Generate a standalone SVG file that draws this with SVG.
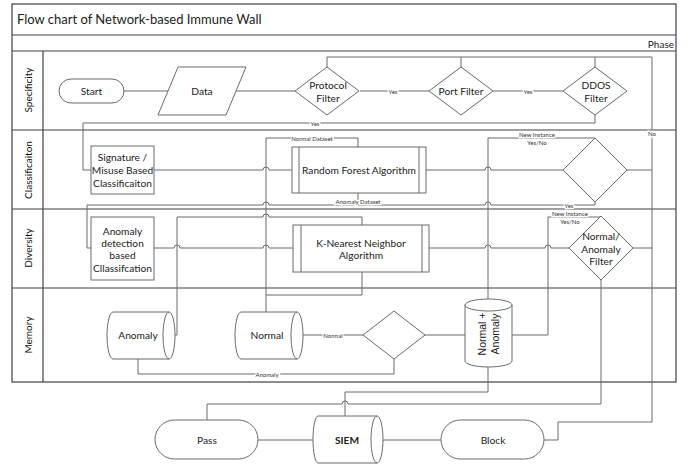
<svg xmlns="http://www.w3.org/2000/svg" width="688" height="468" viewBox="0 0 688 468">
<style>
.frame{fill:none;stroke:#404040;stroke-width:1.2}
.shape{fill:#fff;stroke:#6b6b6b;stroke-width:1}
.ln{fill:none;stroke:#6b6b6b;stroke-width:1}
.t{font-family:Lato,"Liberation Sans",sans-serif;font-size:10.2px;fill:#222;text-anchor:middle;dominant-baseline:central}
.lane{font-family:Lato,"Liberation Sans",sans-serif;font-size:10px;fill:#111;text-anchor:middle;dominant-baseline:central}
.lbl{font-family:Lato,"Liberation Sans",sans-serif;font-size:6px;fill:#333;text-anchor:middle;dominant-baseline:central;stroke:#fff;stroke-width:2.5;paint-order:stroke}
</style>
<rect width="688" height="468" fill="#fff"/>
<g id="frame">
<rect class="frame" x="12" y="4" width="664" height="378"/>
<line class="frame" x1="12" y1="35" x2="676" y2="35"/>
<line class="frame" x1="12" y1="51" x2="676" y2="51"/>
<line class="frame" x1="12" y1="130" x2="676" y2="130"/>
<line class="frame" x1="12" y1="209" x2="676" y2="209"/>
<line class="frame" x1="12" y1="288" x2="676" y2="288"/>
<line class="frame" x1="43" y1="51" x2="43" y2="382"/>
<text x="17" y="19" font-family="Lato,'Liberation Sans',sans-serif" font-size="13" fill="#222" dominant-baseline="central">Flow chart of Network-based Immune Wall</text>
<text x="674" y="44" font-family="Lato,'Liberation Sans',sans-serif" font-size="10" fill="#222" text-anchor="end" dominant-baseline="central">Phase</text>
<text class="lane" transform="translate(28,90) rotate(-90)">Specificity</text>
<text class="lane" transform="translate(28,170) rotate(-90)">Classificaiton</text>
<text class="lane" transform="translate(28,248) rotate(-90)">Diversity</text>
<text class="lane" transform="translate(28,335) rotate(-90)">Memory</text>
</g>
<g id="connectors">
<path class="ln" d="M124,91 H168"/>
<path class="ln" d="M236,91 H296"/>
<path class="ln" d="M360,91 H429"/>
<path class="ln" d="M493,91 H563"/>
<path class="ln" d="M327,67 V57 H652 V422 H558 V440 H544"/>
<path class="ln" d="M461,67 V57"/>
<path class="ln" d="M595,67 V57"/>
<path class="ln" d="M595,115 V123 H83 V170 H91"/>
<path class="ln" d="M154,170 H263 A3,3 0 0 1 269,170 H292"/>
<path class="ln" d="M426,170 H485 A3,3 0 0 1 491,170 H563"/>
<path class="ln" d="M627,170 H652"/>
<path class="ln" d="M358,147 V138 H266 V312"/>
<path class="ln" d="M358,193 V205"/>
<path class="ln" d="M595,202 V205 H491 A3,3 0 0 0 485,205 H269 A3,3 0 0 0 263,205 H87 V248 H91"/>
<path class="ln" d="M362,225 V217 H269 A3,3 0 0 0 263,217 H177 V335 H175"/>
<path class="ln" d="M154,248 H174 A3,3 0 0 1 180,248 H263 A3,3 0 0 1 269,248 H293"/>
<path class="ln" d="M429,248 H485 A3,3 0 0 1 491,248 H545 A3,3 0 0 1 551,248 H569"/>
<path class="ln" d="M633,248 H652"/>
<path class="ln" d="M488,299 V138 H595"/>
<path class="ln" d="M512,335 H548 V217 H601"/>
<path class="ln" d="M362,272 V295 H266"/>
<path class="ln" d="M303,335 H363"/>
<path class="ln" d="M394,359 V374 H138 V359"/>
<path class="ln" d="M425,335 H465"/>
<path class="ln" d="M488,367 V392 H345 V416"/>
<path class="ln" d="M207,420 V404 H342 A3,3 0 0 1 348,404 H601 V280"/>
<path class="ln" d="M258,440 H313"/>
<path class="ln" d="M383,440 H441"/>
<text class="lbl" x="393" y="91">Yes</text>
<text class="lbl" x="528" y="91">Yes</text>
<text class="lbl" x="315" y="123">Yes</text>
<text class="lbl" x="652" y="133">No</text>
<text class="lbl" x="312" y="138">Normal Dataset</text>
<text class="lbl" x="358" y="201">Anomaly Dataset</text>
<text class="lbl" x="569" y="205">Yes</text>
<text class="lbl" x="537" y="134">New Instance</text>
<text class="lbl" x="537" y="142">Yes/No</text>
<text class="lbl" x="570" y="213">New Instance</text>
<text class="lbl" x="570" y="221">Yes/No</text>
<text class="lbl" x="333" y="335">Normal</text>
<text class="lbl" x="267" y="374">Anomaly</text>
</g>
<g id="start">
<rect class="shape" x="59" y="79" width="65" height="24" rx="12"/>
<text class="t" x="91.5" y="91">Start</text>
</g>
<g id="data">
<polygon class="shape" points="178,67 246,67 226,115 158,115"/>
<text class="t" x="202" y="91">Data</text>
</g>
<g id="protocol-filter">
<polygon class="shape" points="327,67 359,91 327,115 295,91"/>
<text class="t" x="328" y="85">Protocol</text>
<text class="t" x="328" y="98">Filter</text>
</g>
<g id="port-filter">
<polygon class="shape" points="461,67 493,91 461,115 429,91"/>
<text class="t" x="461" y="91">Port Filter</text>
</g>
<g id="ddos-filter">
<polygon class="shape" points="595,67 627,91 595,115 563,91"/>
<text class="t" x="596" y="85">DDOS</text>
<text class="t" x="596" y="98">Filter</text>
</g>
<g id="signature">
<rect class="shape" x="91" y="146" width="63" height="48"/>
<text class="t" x="122.5" y="157">Signature /</text>
<text class="t" x="122.5" y="170">Misuse Based</text>
<text class="t" x="122.5" y="183">Classificaiton</text>
</g>
<g id="random-forest">
<rect class="shape" x="292" y="147" width="134" height="46"/>
<line class="ln" x1="299" y1="147" x2="299" y2="193"/>
<line class="ln" x1="419" y1="147" x2="419" y2="193"/>
<text class="t" x="359" y="170">Random Forest Algorithm</text>
</g>
<g id="class-decision">
<polygon class="shape" points="595,138 627,170 595,202 563,170"/>
</g>
<g id="anomaly-detection">
<rect class="shape" x="91" y="217" width="63" height="63"/>
<text class="t" x="122.5" y="231">Anomaly</text>
<text class="t" x="122.5" y="243">detection</text>
<text class="t" x="122.5" y="255">based</text>
<text class="t" x="122.5" y="268">Cllassifcation</text>
</g>
<g id="knn">
<rect class="shape" x="293" y="225" width="136" height="47"/>
<line class="ln" x1="301" y1="225" x2="301" y2="272"/>
<line class="ln" x1="422" y1="225" x2="422" y2="272"/>
<text class="t" x="361" y="243">K-Nearest Neighbor</text>
<text class="t" x="361" y="255">Algorithm</text>
</g>
<g id="normal-anomaly-filter">
<polygon class="shape" points="601,216 633,248 601,280 569,248"/>
<text class="t" x="601" y="236">Normal/</text>
<text class="t" x="601" y="249">Anomaly</text>
<text class="t" x="601" y="261">Filter</text>
</g>
<g id="anomaly-store">
<path class="shape" d="M113,312 H169 A6,23.5 0 0 1 169,359 H113 A6,23.5 0 0 1 113,312 Z"/>
<path class="ln" d="M169,312 A6,23.5 0 0 0 169,359"/>
<text class="t" x="138" y="335">Anomaly</text>
</g>
<g id="normal-store">
<path class="shape" d="M241,312 H297 A6,23.5 0 0 1 297,359 H241 A6,23.5 0 0 1 241,312 Z"/>
<path class="ln" d="M297,312 A6,23.5 0 0 0 297,359"/>
<text class="t" x="267" y="335">Normal</text>
</g>
<g id="memory-decision">
<polygon class="shape" points="394,311 425,335 394,359 363,335"/>
</g>
<g id="normal-anomaly-store">
<path class="shape" d="M465,305 A23.5,6 0 0 1 512,305 V361 A23.5,6 0 0 1 465,361 Z"/>
<path class="ln" d="M465,305 A23.5,6 0 0 0 512,305"/>
<text transform="translate(488,334) rotate(-90)" font-family="'Liberation Sans',Arial,sans-serif" font-size="10.5" fill="#222" text-anchor="middle"><tspan x="0" y="-2">Normal +</tspan><tspan x="0" y="11">Anomaly</tspan></text>
</g>
<g id="pass">
<rect class="shape" x="155" y="420" width="103" height="39" rx="19.5"/>
<text class="t" x="207" y="440">Pass</text>
</g>
<g id="siem">
<path class="shape" d="M318,416 H377 A6,23.5 0 0 1 377,463 H318 A5,23.5 0 0 1 318,416 Z"/>
<path class="ln" d="M377,416 A6,23.5 0 0 0 377,463"/>
<text class="t" x="347" y="440" font-weight="bold">SIEM</text>
</g>
<g id="block">
<rect class="shape" x="441" y="420" width="103" height="39" rx="19.5"/>
<text class="t" x="493" y="440">Block</text>
</g>
</svg>
